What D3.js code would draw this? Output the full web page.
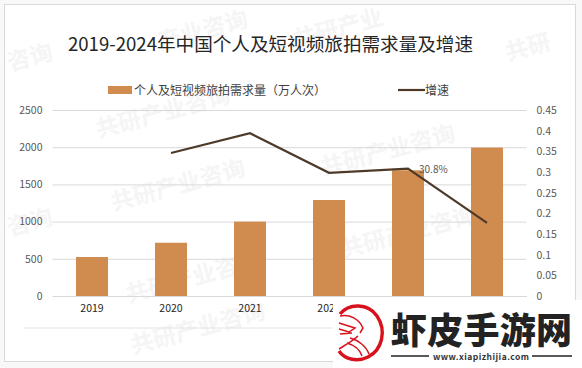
<!DOCTYPE html>
<html>
<head>
<meta charset="utf-8">
<script src="https://cdn.jsdelivr.net/npm/d3@7"></script>
<style>
body { margin: 0; background: #f8f8f8; overflow: hidden; }
text { font-family: "Noto Sans CJK SC", "Noto Sans", sans-serif; }
</style>
</head>
<body>
<script>
const years = ["2019", "2020", "2021", "2022", "2023", "2024"];
const demand = [524, 716, 1000, 1290, 1690, 1995];
const growth = [null, 0.346, 0.394, 0.298, 0.308, 0.177];
const leftTicks = [0, 500, 1000, 1500, 2000, 2500];
const rightTicks = [0, 0.05, 0.1, 0.15, 0.2, 0.25, 0.3, 0.35, 0.4, 0.45];
const title = "2019-2024年中国个人及短视频旅拍需求量及增速";
const barName = "个人及短视频旅拍需求量（万人次）";
const lineName = "增速";
const stampX = [165, 180, 195, 200, 390, 410, 340, 205, 32, 530, 32];
const stampY = [120, 193, 285, 336, 158, 240, 36, 38, 65, 55, 230];
const stampText = ["共研产业咨询", "共研产业咨询", "共研产业咨询", "共研产业咨询", "共研产业咨询", "共研产业咨询", "共研产业", "产业咨询", "咨询", "共研", "咨询"];

const width = 582, height = 368;
const plotTop = 110, plotBottom = 296, plotLeft = 52.5, plotRight = 526.5;

const svg = d3.select("body").append("svg")
        .attr("width", width)
        .attr("height", height)
        .style("display", "block");

svg.append("rect")
        .attr("x", 4.5).attr("y", 4.5)
        .attr("width", 571).attr("height", 357)
        .attr("fill", "#fff")
        .attr("stroke", "#d9d9d9");

// faint stamps behind the chart
svg.append("g").selectAll("text")
        .data(stampText)
        .enter().append("text")
        .attr("transform", (d, i) => `translate(${stampX[i]},${stampY[i]}) rotate(-15)`)
        .attr("text-anchor", "middle")
        .attr("font-size", 23)
        .attr("font-weight", 700)
        .attr("fill", "#f5f5f5")
        .text(d => d);

const x = d3.scaleBand().domain(years).range([plotLeft, plotRight])
        .paddingInner(0.595).paddingOuter(0.2975);
const xPoint = d => x(d) + x.bandwidth() / 2;
const y = d3.scaleLinear().domain([0, 2500]).range([plotBottom, plotTop]);
const y2 = d3.scaleLinear().domain([0, 0.45]).range([plotBottom, plotTop]);

const yAxis = svg.append("g")
        .attr("transform", `translate(${plotLeft},0)`)
        .call(d3.axisLeft(y).tickValues(leftTicks).tickSize(0).tickPadding(10)
                .tickFormat(d => String(d)));
yAxis.select(".domain").remove();
yAxis.selectAll("line")
        .attr("x2", plotRight - plotLeft)
        .attr("stroke", "#d9d9d9");
yAxis.selectAll("text")
        .attr("font-size", 10.5)
        .attr("fill", "#595959")
        .style("font-family", "'Noto Sans CJK SC', sans-serif");

const y2Axis = svg.append("g")
        .attr("transform", `translate(${plotRight},0)`)
        .call(d3.axisRight(y2).tickValues(rightTicks).tickSize(0).tickPadding(10)
                .tickFormat(d => String(d)));
y2Axis.select(".domain").remove();
y2Axis.selectAll("text")
        .attr("font-size", 10.5)
        .attr("fill", "#595959")
        .style("font-family", "'Noto Sans CJK SC', sans-serif");

const xAxis = svg.append("g")
        .attr("transform", `translate(0,${plotBottom})`)
        .call(d3.axisBottom(x).tickSize(0).tickPadding(9));
xAxis.select(".domain").attr("stroke", "#d9d9d9");
xAxis.selectAll("text")
        .attr("font-size", 10.5)
        .attr("fill", "#262626")
        .style("font-family", "'Noto Sans CJK SC', sans-serif");

svg.append("line")
        .attr("x1", 24).attr("x2", 530)
        .attr("y1", 328).attr("y2", 328)
        .attr("stroke", "#e3e3e3");

svg.selectAll(".bar")
        .data(demand)
        .enter().append("rect")
        .attr("class", "bar")
        .attr("x", (d, i) => x(years[i]))
        .attr("y", d => y(d))
        .attr("width", x.bandwidth())
        .attr("height", d => plotBottom - y(d))
        .attr("fill", "#d08c4f");

const line = d3.line()
        .defined(d => d !== null)
        .x((d, i) => xPoint(years[i]))
        .y(d => y2(d));

svg.append("path")
        .attr("d", line(growth))
        .attr("fill", "none")
        .attr("stroke", "#4f3a28")
        .attr("stroke-width", 2.2);

svg.append("text")
        .attr("x", xPoint("2023") + 11)
        .attr("y", y2(growth[4]) + 4)
        .attr("font-size", 10)
        .attr("fill", "#595959")
        .text("30.8%");

svg.append("text")
        .attr("x", 270.5).attr("y", 51)
        .attr("text-anchor", "middle")
        .attr("font-size", 18.6)
        .attr("fill", "#262626")
        .text(title);

// legend
svg.append("rect")
        .attr("x", 108).attr("y", 86)
        .attr("width", 24).attr("height", 8)
        .attr("fill", "#d08c4f");
svg.append("text")
        .attr("x", 134).attr("y", 94.5)
        .attr("font-size", 12)
        .attr("fill", "#404040")
        .text(barName);
svg.append("line")
        .attr("x1", 398).attr("x2", 425)
        .attr("y1", 90).attr("y2", 90)
        .attr("stroke", "#4f3a28")
        .attr("stroke-width", 2.2);
svg.append("text")
        .attr("x", 425).attr("y", 94.5)
        .attr("font-size", 12)
        .attr("fill", "#404040")
        .text(lineName);

// site badge bottom right
const badge = svg.append("g");
badge.append("rect")
        .attr("x", 333).attr("y", 300)
        .attr("width", 249).attr("height", 68)
        .attr("fill", "#fff");
badge.append("path")
        .attr("d", "M340,314 C349,303 368,303 377,316 C387,331 382,350 368,357 C358,362 345,360 339,351")
        .attr("fill", "none")
        .attr("stroke", "#d8121c")
        .attr("stroke-width", 3.4);
badge.append("path")
        .attr("d", "M340,316 C350,314 359,319 363,328 L360,333 M339,323 L355,328 L349,332 L339,329 M340,334 L352,333 M350,338 C358,340 366,346 369,354 M347,343 C354,345 360,350 362,356 M339,349 C347,344 354,340 358,336")
        .attr("fill", "none")
        .attr("stroke", "#d8121c")
        .attr("stroke-width", 1.5);
badge.append("text")
        .attr("x", 391).attr("y", 344)
        .attr("font-size", 36)
        .attr("font-weight", 900)
        .attr("fill", "#222")
        .attr("textLength", 181)
        .text("虾皮手游网");
badge.append("text")
        .attr("x", 433).attr("y", 359.5)
        .attr("font-size", 8.5)
        .attr("font-weight", 700)
        .attr("fill", "#333")
        .attr("textLength", 96)
        .text("www.xiapizhijia.com");
badge.selectAll(".rule")
        .data([[391, 429], [532, 572]])
        .enter().append("line")
        .attr("x1", d => d[0]).attr("x2", d => d[1])
        .attr("y1", 356).attr("y2", 356)
        .attr("stroke", "#222")
        .attr("stroke-width", 1.5);
</script>
</body>
</html>
